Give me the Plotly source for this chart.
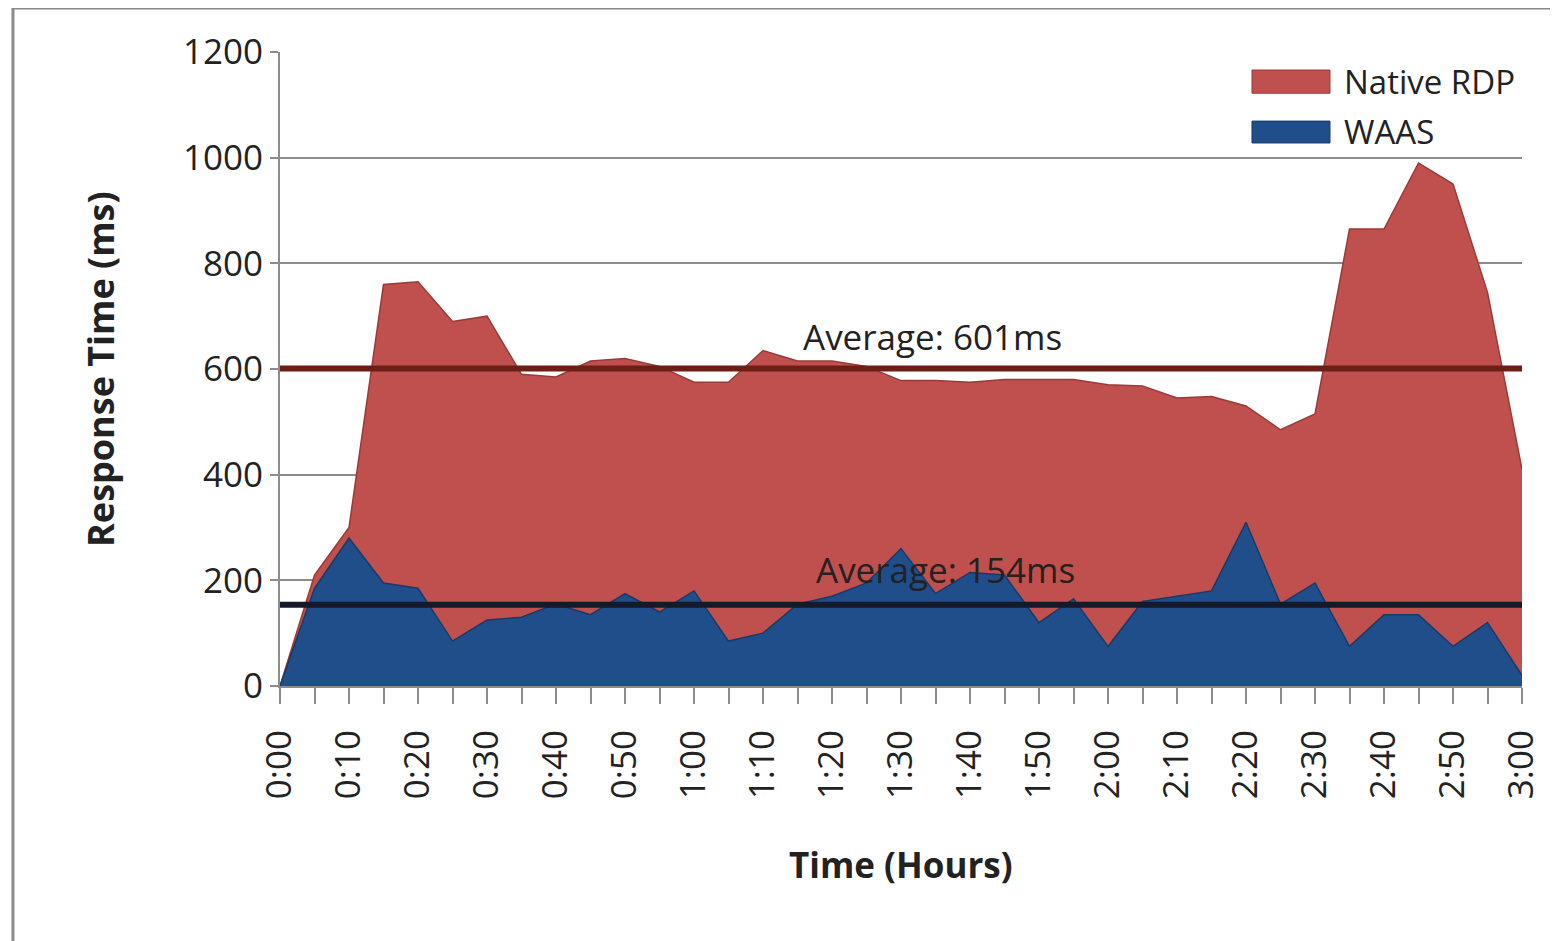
import plotly.graph_objects as go

# ---- data ----
times = ["0:00", "0:05", "0:10", "0:15", "0:20", "0:25", "0:30", "0:35", "0:40", "0:45",
         "0:50", "0:55", "1:00", "1:05", "1:10", "1:15", "1:20", "1:25", "1:30", "1:35",
         "1:40", "1:45", "1:50", "1:55", "2:00", "2:05", "2:10", "2:15", "2:20", "2:25",
         "2:30", "2:35", "2:40", "2:45", "2:50", "2:55", "3:00"]

native_rdp = [0, 210, 300, 760, 765, 690, 700, 590, 585, 615,
              620, 605, 575, 575, 635, 615, 615, 605, 578, 578,
              575, 580, 580, 580, 570, 568, 545, 548, 530, 485,
              515, 865, 865, 990, 950, 745, 410]

waas = [0, 185, 280, 195, 185, 85, 125, 130, 155, 135,
        175, 140, 180, 85, 100, 155, 170, 195, 260, 175,
        215, 210, 120, 165, 75, 160, 170, 180, 310, 155,
        195, 75, 135, 135, 75, 120, 20]

avg_native = 601
avg_waas = 154
series_names = ["Native RDP", "WAAS"]
y_ticks = [0, 200, 400, 600, 800, 1000, 1200]

FONT = "Open Sans"
RED_FILL = "#c0504d"
RED_LINE = "#9a3a37"
BLUE_FILL = "#1f4e8a"
BLUE_LINE = "#173b68"
AVG_RED = "#6d1f17"
AVG_BLUE = "#151a2a"
GRID = "#8c8c8c"

fig = go.Figure()

fig.add_trace(go.Scatter(
    x=times, y=native_rdp, name=series_names[0], mode="lines",
    fill="tozeroy", fillcolor=RED_FILL,
    line=dict(color=RED_LINE, width=1.5), showlegend=False))

fig.add_trace(go.Scatter(
    x=times, y=waas, name=series_names[1], mode="lines",
    fill="tozeroy", fillcolor=BLUE_FILL,
    line=dict(color=BLUE_LINE, width=1.5), showlegend=False))

fig.add_trace(go.Scatter(
    x=[times[0], times[-1]], y=[avg_native, avg_native], mode="lines",
    line=dict(color=AVG_RED, width=6), showlegend=False, hoverinfo="skip"))

fig.add_trace(go.Scatter(
    x=[times[0], times[-1]], y=[avg_waas, avg_waas], mode="lines",
    line=dict(color=AVG_BLUE, width=6), showlegend=False, hoverinfo="skip"))

ticktext = [t if i % 2 == 0 else "" for i, t in enumerate(times)]

fig.update_xaxes(
    type="category", range=[0, len(times) - 1],
    tickmode="array", tickvals=times, ticktext=ticktext,
    tickangle=-90, ticks="outside", ticklen=16, tickwidth=2, tickcolor=GRID,
    ticklabelstandoff=12,
    tickfont=dict(family=FONT, size=35, color="#222"),
    showline=True, linecolor=GRID, linewidth=2,
    showgrid=False, zeroline=False)

fig.update_yaxes(
    range=[0, 1200], tickmode="array", tickvals=y_ticks,
    ticks="outside", ticklen=8, tickwidth=2, tickcolor=GRID,
    ticklabelstandoff=0,
    tickfont=dict(family=FONT, size=35, color="#222"),
    showline=True, linecolor=GRID, linewidth=2,
    showgrid=True, gridcolor=GRID, gridwidth=2, zeroline=False)

annotations = [
    dict(x=18.9, y=662, xref="x", yref="y", text="Average: 601ms", showarrow=False,
         xanchor="center", yanchor="middle",
         font=dict(family=FONT, size=35, color="#222")),
    dict(x=19.3, y=220, xref="x", yref="y", text="Average: 154ms", showarrow=False,
         xanchor="center", yanchor="middle",
         font=dict(family=FONT, size=35, color="#222")),
    dict(x=-0.145, y=0.5, xref="paper", yref="paper", text="<b>Response Time (ms)</b>",
         textangle=-90, showarrow=False, xanchor="center", yanchor="middle",
         font=dict(family=FONT, size=36, color="#222")),
    dict(x=0.5, y=-0.282, xref="paper", yref="paper", text="<b>Time (Hours)</b>",
         showarrow=False, xanchor="center", yanchor="middle",
         font=dict(family=FONT, size=35, color="#222")),
    dict(x=0.855, y=0.954, xref="paper", yref="paper", text=series_names[0],
         xanchor="left", yanchor="middle", showarrow=False,
         font=dict(family=FONT, size=33, color="#222")),
    dict(x=0.855, y=0.874, xref="paper", yref="paper", text=series_names[1],
         xanchor="left", yanchor="middle", showarrow=False,
         font=dict(family=FONT, size=33, color="#222")),
]

shapes = [
    # legend swatches
    dict(type="rect", xref="paper", yref="paper", x0=0.7826, x1=0.8454, y0=0.935, y1=0.9716,
         fillcolor=RED_FILL, line=dict(color=RED_LINE, width=1)),
    dict(type="rect", xref="paper", yref="paper", x0=0.7826, x1=0.8454, y0=0.8565, y1=0.891,
         fillcolor=BLUE_FILL, line=dict(color=BLUE_LINE, width=1)),
    # outer frame (top and left)
    dict(type="line", xref="paper", yref="paper", x0=-0.2150, x1=1.05, y0=1.0694, y1=1.0694,
         line=dict(color="#8a8a8a", width=3)),
    dict(type="line", xref="paper", yref="paper", x0=-0.2150, x1=-0.2150, y0=1.0694, y1=-0.45,
         line=dict(color="#8a8a8a", width=3)),
]

fig.update_layout(
    width=1558, height=941,
    margin=dict(l=272, r=44, t=44, b=263),
    paper_bgcolor="white", plot_bgcolor="white",
    annotations=annotations, shapes=shapes,
    showlegend=False,
    font=dict(family=FONT),
)

fig.write_html("out.html")
